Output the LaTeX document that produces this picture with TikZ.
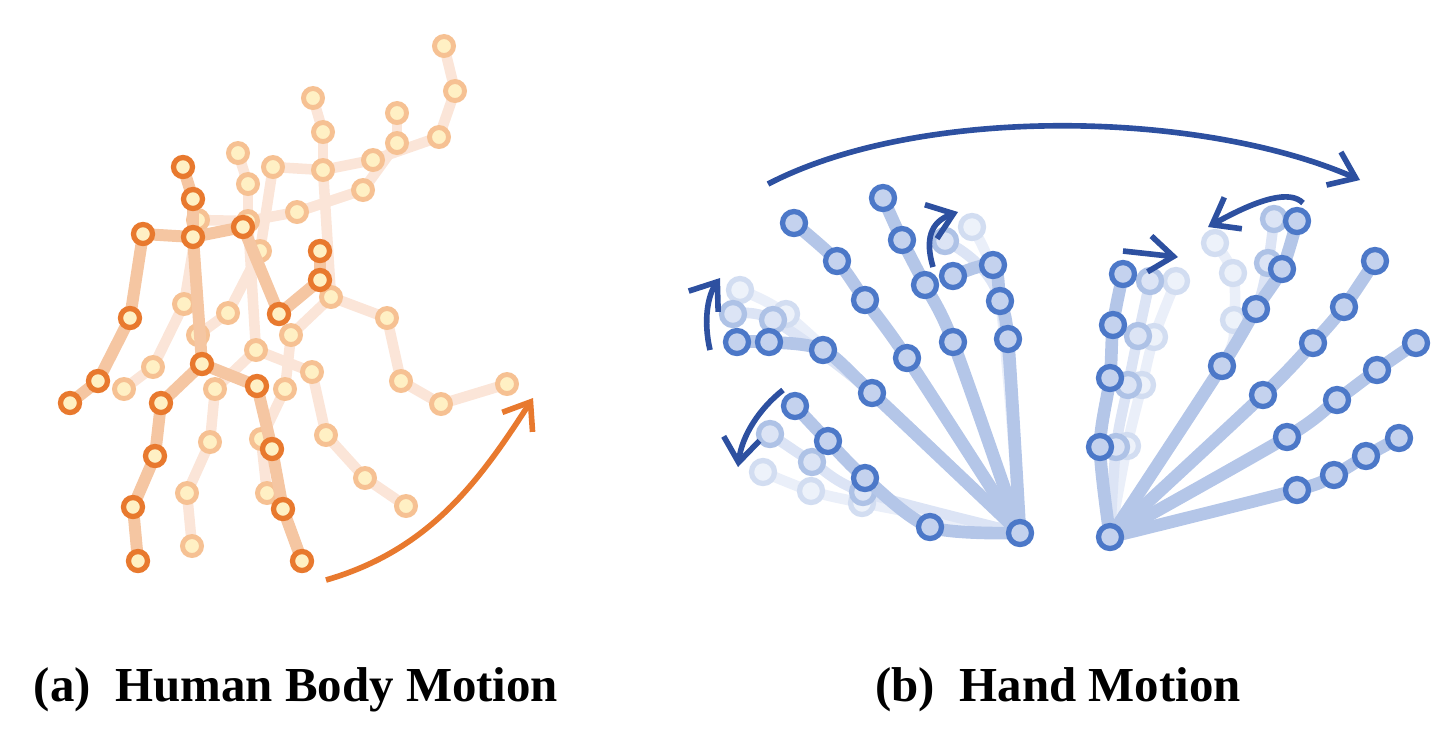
\documentclass[tikz,border=0pt]{standalone}
\usepackage{fontspec}
\setmainfont{Liberation Serif}
\usetikzlibrary{arrows.meta}
\definecolor{orgdark}{HTML}{E8792E}
\definecolor{orgbone}{HTML}{F5C6A2}
\definecolor{orgfaint}{HTML}{FBE5D8}
\definecolor{orgring}{HTML}{F6C193}
\definecolor{cream}{HTML}{FFF0C4}
\definecolor{bluedark}{HTML}{4C78C8}
\definecolor{bluefill}{HTML}{C4D2EE}
\definecolor{bluebone}{HTML}{B4C6E8}
\definecolor{blueghost}{HTML}{DCE4F5}
\definecolor{bluearrow}{HTML}{2D50A0}
\tikzstyle{bone}   = [draw=orgbone, line width=3.4pt, line cap=round, line join=round]
\tikzstyle{fbone}  = [draw=orgfaint, line width=3pt, line cap=round, line join=round]
\tikzstyle{jt}     = [draw=orgdark, fill=cream, circle, line width=1.5pt, minimum size=0.19cm, inner sep=0pt]
\tikzstyle{fjt}    = [draw=orgring, fill=cream, circle, line width=1.4pt, minimum size=0.19cm, inner sep=0pt]
\tikzstyle{hbone}  = [draw=bluebone, line width=3.6pt, line cap=round, line join=round]
\tikzstyle{gbone}  = [draw=blueghost, line width=3pt, line cap=round, line join=round]
\tikzstyle{hjt}    = [draw=bluedark, fill=bluefill, circle, line width=1.5pt, minimum size=0.23cm, inner sep=0pt]
\tikzstyle{gjt}    = [draw=bluedark!45, fill=bluefill!60, circle, line width=1.5pt, minimum size=0.23cm, inner sep=0pt]
\tikzstyle{ggjt}   = [draw=bluedark!25, fill=bluefill!30, circle, line width=1.5pt, minimum size=0.23cm, inner sep=0pt]
\tikzstyle{marr}   = [draw=bluearrow, line width=1.6pt, -{Straight Barb[length=2.4mm,width=3.6mm]}]

\begin{document}
\begin{tikzpicture}[x=0.01cm, y=-0.01cm]
\useasboundingbox (0,0) rectangle (1449,732);

% faint body poses
\foreach \n/\x/\y in {p1/444/46, p2/455/91, p3/439/137, p4/397/113, p5/397/143, p6/373/160,
  p7/313/98, p8/323/132, p9/323/170, p10/273/167, p11/238/153, p12/248/184, p13/363/190,
  p14/297/212, p15/198/220, p16/248/221, p17/260/251, p18/331/297, p19/387/318, p20/401/381,
  p21/441/404, p22/507/384, p23/291/335, p24/228/313, p25/184/304, p26/198/335, p27/153/367,
  p28/124/389, p29/256/350, p30/312/372, p31/326/435, p32/365/478, p33/406/506, p34/285/389,
  p35/261/439, p36/267/493, p37/215/389, p38/210/442, p39/187/493, p40/192/546}
  \coordinate (\n) at (\x,\y);
\foreach \a/\b in {p7/p8, p8/p9, p9/p10, p10/p17, p17/p24, p24/p26, p9/p6, p6/p3, p3/p2, p2/p1,
  p9/p18, p18/p19, p19/p20, p20/p21, p21/p22, p18/p23, p23/p34, p34/p35, p35/p36,
  p11/p12, p12/p16, p16/p15, p16/p14, p15/p25, p25/p27, p27/p28, p14/p13, p13/p5, p5/p4,
  p16/p29, p29/p30, p30/p31, p31/p32, p32/p33, p29/p37, p37/p38, p38/p39, p39/p40}
  \draw [fbone] (\a) -- (\b);
\foreach \n in {1,...,40}
  \node [fjt] (fj\n) at (p\n) {};

% front body pose
\foreach \n/\x/\y in {hd/183/167, nk/193/199, ch/193/237, lsh/143/234, lel/130/318, lwr/98/381,
  lhd/70/403, rsh/243/227, rel/279/314, rwr/320/280, rhd/320/251, pv/202/364, lhp/161/403,
  lkn/155/456, lak/133/507, lft/138/561, rhp/257/386, rkn/272/449, rak/283/509, rft/302/561}
  \coordinate (\n) at (\x,\y);
\foreach \a/\b in {hd/nk, nk/ch, ch/lsh, lsh/lel, lel/lwr, lwr/lhd, ch/rsh, rsh/rel, rel/rwr,
  rwr/rhd, ch/pv, pv/lhp, lhp/lkn, lkn/lak, lak/lft, pv/rhp, rhp/rkn, rkn/rak, rak/rft}
  \draw [bone] (\a) -- (\b);
\foreach \n in {hd,nk,ch,lsh,lel,lwr,lhd,rsh,rel,rwr,rhd,pv,lhp,lkn,lak,lft,rhp,rkn,rak,rft}
  \node [jt] (j\n) at (\n) {};

\coordinate (bs) at (326,580);
\coordinate (be) at (533,398);
\draw [draw=orgdark, line width=1.6pt, -{Straight Barb[length=2.4mm,width=3.6mm]}]
  (bs) .. controls (430,550) and (480,480) .. (be);

% left hand
\coordinate (wa) at (1020,533);
\draw [gbone, opacity=.6] plot[smooth, tension=.5] coordinates {(wa) (863,503) (811,491) (763,472)};
\draw [gbone] plot[smooth, tension=.5] coordinates {(wa) (863,492) (812,462) (770,434)};
\draw [gbone, opacity=.6] plot[smooth, tension=.5] coordinates {(wa) (872,393) (786,314) (740,290)};
\draw [gbone] plot[smooth, tension=.5] coordinates {(wa) (872,393) (773,320) (733,314)};
\draw [gbone, opacity=.6] plot[smooth, tension=.5] coordinates {(wa) (1000,301) (972,227)};
\draw [gbone] plot[smooth, tension=.5] coordinates {(wa) (1000,301) (945,241)};
\foreach \n/\x/\y in {a1/862/503, a2/811/491, a3/763/472, a4/740/290, a5/786/314, a6/972/227}
  \node [ggjt] (\n) at (\x,\y) {};
\foreach \n/\x/\y in {a7/863/492, a8/812/462, a9/770/434, a10/733/314, a11/773/320, a12/945/241}
  \node [gjt] (\n) at (\x,\y) {};
\draw [hbone] plot[smooth, tension=.5] coordinates {(wa) (930,527) (865,478) (828,441) (795,406)};
\draw [hbone] plot[smooth, tension=.5] coordinates {(wa) (872,393) (823,350) (769,342) (737,342)};
\draw [hbone] plot[smooth, tension=.5] coordinates {(wa) (907,358) (865,300) (837,261) (794,223)};
\draw [hbone] plot[smooth, tension=.5] coordinates {(wa) (953,342) (925,285) (902,240) (883,198)};
\draw [hbone] plot[smooth, tension=.5] coordinates {(wa) (1008,339) (1000,301) (993,265) (953,276)};
\foreach \n/\x/\y in {l0/1020/533, l1/930/527, l2/865/478, l3/828/441, l4/795/406,
  l5/872/393, l6/823/350, l7/769/342, l8/737/342, l9/907/358, l10/865/300, l11/837/261,
  l12/794/223, l13/953/342, l14/925/285, l15/902/240, l16/883/198, l17/1008/339,
  l18/1000/301, l19/993/265, l20/953/276}
  \node [hjt] (\n) at (\x,\y) {};

% right hand
\coordinate (wb) at (1110,537);
\draw [gbone, opacity=.6] plot[smooth, tension=.5] coordinates {(wb) (1127,446) (1142,385) (1154,337) (1176,281)};
\draw [gbone] plot[smooth, tension=.5] coordinates {(wb) (1116,447) (1128,385) (1138,336) (1150,281)};
\draw [gbone, opacity=.6] plot[smooth, tension=.5] coordinates {(wb) (1222,366) (1234,320) (1233,273) (1215,243)};
\draw [gbone] plot[smooth, tension=.5] coordinates {(wb) (1222,366) (1256,309) (1268,263) (1274,219)};
\foreach \n/\x/\y in {b1/1127/446, b2/1142/385, b3/1154/337, b4/1176/281, b5/1234/320, b6/1233/273, b7/1215/243}
  \node [ggjt] (\n) at (\x,\y) {};
\foreach \n/\x/\y in {b8/1116/447, b9/1128/385, b10/1138/336, b11/1150/281, b12/1268/263, b13/1274/219}
  \node [gjt] (\n) at (\x,\y) {};
\draw [hbone] plot[smooth, tension=.5] coordinates {(wb) (1100,447) (1110,378) (1113,325) (1123,274)};
\draw [hbone] plot[smooth, tension=.5] coordinates {(wb) (1222,366) (1256,309) (1282,269) (1297,221)};
\draw [hbone] plot[smooth, tension=.5] coordinates {(wb) (1263,395) (1313,343) (1344,307) (1375,261)};
\draw [hbone] plot[smooth, tension=.5] coordinates {(wb) (1287,437) (1337,400) (1377,370) (1416,343)};
\draw [hbone] plot[smooth, tension=.5] coordinates {(wb) (1297,490) (1334,475) (1366,456) (1399,438)};
\foreach \n/\x/\y in {r0/1110/537, r1/1100/447, r2/1110/378, r3/1113/325, r4/1123/274,
  r5/1222/366, r6/1256/309, r7/1282/269, r8/1297/221, r9/1263/395, r10/1313/343,
  r11/1344/307, r12/1375/261, r13/1287/437, r14/1337/400, r15/1377/370, r16/1416/343,
  r17/1297/490, r18/1334/475, r19/1366/456, r20/1399/438}
  \node [hjt] (\n) at (\x,\y) {};

% motion arrows
\draw [marr] (768,184) .. controls (920,105) and (1200,110) .. (1360,180);
\draw [marr] (710,350) .. controls (703,320) and (708,295) .. (720,278);
\draw [marr] (783,390) .. controls (760,408) and (742,435) .. (738,467);
\draw [marr] (933,267) .. controls (925,240) and (930,222) .. (958,212);
\draw [marr] (1123,251) -- (1178,257);
\draw [marr] (1303,203) .. controls (1290,190) and (1260,198) .. (1208,227);

% captions
\node [font=\fontsize{13.9}{17}\selectfont\bfseries] (capa) at (296,690) {(a)\enspace Human Body Motion};
\node [font=\fontsize{13.9}{17}\selectfont\bfseries] (capb) at (1058,690) {(b)\enspace Hand Motion};
\end{tikzpicture}
\end{document}
